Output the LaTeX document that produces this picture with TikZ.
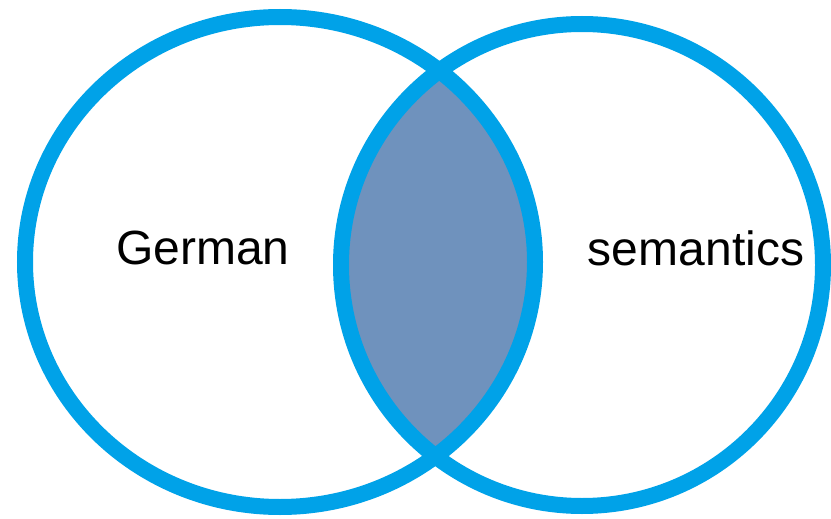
\documentclass[tikz,border=0pt]{standalone}
\usepackage{fontspec}
\setmainfont{Liberation Sans}
\definecolor{ringblue}{HTML}{00A2E8}
\definecolor{lensfill}{HTML}{6F92BD}
\begin{document}
\begin{tikzpicture}[x=1pt,y=-1pt,
  ring/.style={draw=ringblue,line width=16pt},
  lbl/.style={font=\fontsize{48}{56}\selectfont,text=black,inner sep=0pt}]
\useasboundingbox (0,0) rectangle (831,519);
\fill[white] (0,0) rectangle (831,519);
\begin{scope}
  \clip (280,262) ellipse [x radius=255,y radius=245];
  \fill[lensfill] (582,265) circle [radius=241];
\end{scope}
\draw[ring] (280,262) ellipse [x radius=255,y radius=245];
\draw[ring] (582,265) circle [radius=241];
\node[lbl] (german) at (203,248) {German};
\node[lbl] (semantics) at (696,248) {semantics};
\end{tikzpicture}
\end{document}
